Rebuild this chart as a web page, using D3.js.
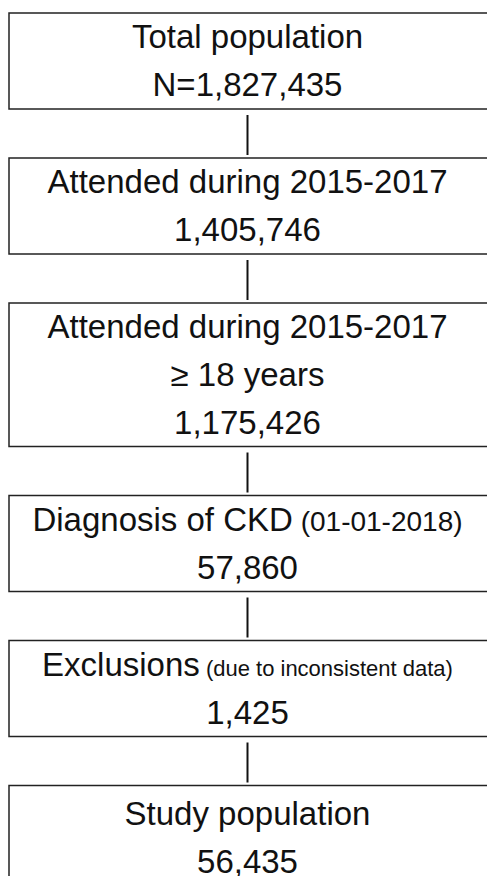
<!DOCTYPE html>
<html>
<head>
<meta charset="utf-8">
<script src="https://cdn.jsdelivr.net/npm/d3@7"></script>
<style>
  html, body { margin: 0; padding: 0; background: #fff; }
  svg { display: block; }
  text { font-family: "Liberation Sans", Arial, sans-serif; fill: #111; }
</style>
</head>
<body>
<main></main>
<script>
const width = 487, height = 876;

// flow steps: main label, optional small note, extra lines, count
const labels = ["Total population", "Attended during 2015-2017", "Attended during 2015-2017",
                "Diagnosis of CKD", "Exclusions", "Study population"];
const notes = ["", "", "", "(01-01-2018)", "(due to inconsistent data)", ""];
const extraLines = [[], [], ["\u2265 18 years"], [], [], []];
const counts = ["N=1,827,435", "1,405,746", "1,175,426", "57,860", "1,425", "56,435"];

const lineH = 47.5, gap = 49, top0 = 13, cx = 247.5;
// the date note is set a bit larger than the exclusions note
const noteSize = {"(01-01-2018)": 28, "(due to inconsistent data)": 22};

const svg = d3.select("main").append("svg")
    .attr("width", width)
    .attr("height", height);

// build layout from the number of text lines in each box
let steps = [];
let y = top0;
labels.forEach(function (label, i) {
  const lines = [{main: label, note: notes[i]}]
      .concat(extraLines[i].map(function (t) { return {main: t, note: ""}; }))
      .concat([{main: counts[i], note: ""}]);
  let h = lines.length * lineH + 1;
  if (i === labels.length - 1) h += 8; // last box is a little taller
  steps.push({lines: lines, top: y, h: h});
  y += h + gap;
});

// connectors
svg.selectAll("line.link")
    .data(steps.slice(1))
    .enter().append("line")
    .attr("class", "link")
    .attr("x1", cx).attr("x2", cx)
    .attr("y1", function (d, i) { return steps[i].top + steps[i].h + 6; })
    .attr("y2", function (d) { return d.top - 3; })
    .attr("stroke", "#111")
    .attr("stroke-width", 2);

const node = svg.selectAll("g.node")
    .data(steps)
    .enter().append("g")
    .attr("class", "node");

node.append("rect")
    .attr("x", 9)
    .attr("y", function (d) { return d.top; })
    .attr("width", 482)
    .attr("height", function (d) { return d.h; })
    .attr("fill", "none")
    .attr("stroke", "#222")
    .attr("stroke-width", 1.5);

node.each(function (d) {
  const g = d3.select(this);
  const n = d.lines.length;
  const mid = d.top + d.h / 2;
  d.lines.forEach(function (ln, j) {
    const t = g.append("text")
        .attr("x", cx)
        .attr("y", mid + (j - (n - 1) / 2) * 48 + 11)
        .attr("text-anchor", "middle")
        .style("font-size", "33px");
    t.append("tspan").text(ln.main);
    if (ln.note) {
      t.append("tspan").style("font-size", noteSize[ln.note] + "px").text(" " + ln.note);
    }
  });
});
</script>
</body>
</html>
